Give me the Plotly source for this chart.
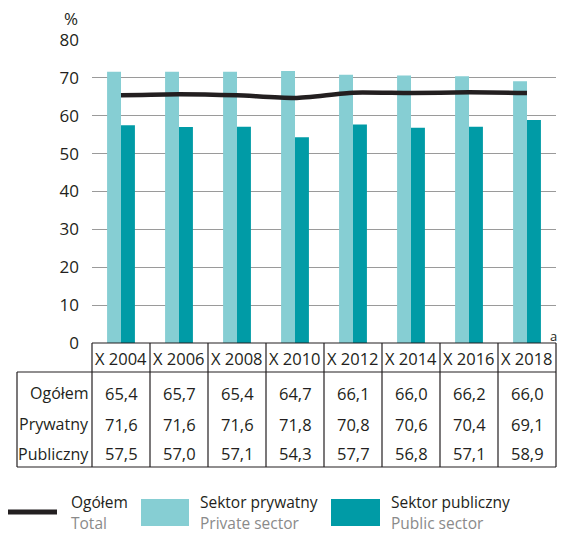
import plotly.graph_objects as go

categories = ["X 2004", "X 2006", "X 2008", "X 2010", "X 2012", "X 2014", "X 2016", "X 2018"]
total = [65.4, 65.7, 65.4, 64.7, 66.1, 66.0, 66.2, 66.0]
private = [71.6, 71.6, 71.6, 71.8, 70.8, 70.6, 70.4, 69.1]
public = [57.5, 57.0, 57.1, 54.3, 57.7, 56.8, 57.1, 58.9]
row_labels = ["Ogółem", "Prywatny", "Publiczny"]
y_ticks = [0, 10, 20, 30, 40, 50, 60, 70, 80]
footnote_mark = "a"

OFF = 8  # page body margin
W, H = 568 - OFF, 533 - OFF
# plot area in screen pixels
L, R, T, B = 92, 556, 40, 343
FONT = "Open Sans"
C_PRIV = "#86CED3"
C_PUB = "#009BA6"
C_LINE = "#231F20"
TXT = "#231F20"


def px(x):
    return (x - L) / (R - L)


def py(y):
    return (B - y) / (B - T)


n = len(categories)
fig = go.Figure()
fig.add_trace(go.Bar(x=list(range(n)), y=private, marker_color=C_PRIV, marker_line_width=0,
                     name="Sektor prywatny", showlegend=False))
fig.add_trace(go.Bar(x=list(range(n)), y=public, marker_color=C_PUB, marker_line_width=0,
                     name="Sektor publiczny", showlegend=False))
fig.add_trace(go.Scatter(x=list(range(n)), y=total, mode="lines",
                         line=dict(color=C_LINE, width=4.5, shape="spline", smoothing=0.6),
                         name="Ogółem", showlegend=False))

shapes = []
ann = []
line_style = dict(color="#231F20", width=1.2)

y_head_top, y_head_bot, y_bot = 343, 372, 467
x_left = 17
shapes.append(dict(type="line", xref="paper", yref="paper", x0=px(L), x1=px(R),
                   y0=py(y_head_top), y1=py(y_head_top), line=line_style))
shapes.append(dict(type="line", xref="paper", yref="paper", x0=px(x_left), x1=px(R),
                   y0=py(y_head_bot), y1=py(y_head_bot), line=line_style))
shapes.append(dict(type="line", xref="paper", yref="paper", x0=px(x_left), x1=px(R),
                   y0=py(y_bot), y1=py(y_bot), line=line_style))
shapes.append(dict(type="line", xref="paper", yref="paper", x0=px(x_left), x1=px(x_left),
                   y0=py(y_head_bot), y1=py(y_bot), line=line_style))
for k in range(n + 1):
    xx = L + k * (R - L) / n
    shapes.append(dict(type="line", xref="paper", yref="paper", x0=px(xx), x1=px(xx),
                       y0=py(y_head_top), y1=py(y_bot), line=line_style))

for i, c in enumerate(categories):
    ann.append(dict(x=i, y=py(358), xref="x", yref="paper", text=c, showarrow=False,
                    font=dict(family=FONT, size=16.5, color=TXT), xanchor="center", yanchor="middle"))

row_y = [393, 424, 454]
rows = [total, private, public]
for lab, yy, vals in zip(row_labels, row_y, rows):
    ann.append(dict(x=px(91), y=py(yy), xref="paper", yref="paper", text=lab, showarrow=False,
                    font=dict(family=FONT, size=16, color=TXT), xanchor="right", yanchor="middle"))
    for i, v in enumerate(vals):
        ann.append(dict(x=i, y=py(yy), xref="x", yref="paper",
                        text=f"{v:.1f}".replace(".", ","), showarrow=False,
                        font=dict(family=FONT, size=16.5, color=TXT), xanchor="center", yanchor="middle"))

ann.append(dict(x=px(71), y=py(19), xref="paper", yref="paper", text="%", showarrow=False,
                font=dict(family=FONT, size=17, color=TXT), xanchor="center", yanchor="middle"))
# footnote marker next to the table's top-right corner
ann.append(dict(x=px(553), y=py(336), xref="paper", yref="paper", text=footnote_mark,
                showarrow=False, font=dict(family=FONT, size=13, color=TXT),
                xanchor="center", yanchor="middle"))

# legend
shapes.append(dict(type="line", xref="paper", yref="paper", x0=px(7), x1=px(57),
                   y0=py(512), y1=py(512), line=dict(color=C_LINE, width=5)))
shapes.append(dict(type="rect", xref="paper", yref="paper", x0=px(141), x1=px(189),
                   y0=py(499), y1=py(526), fillcolor=C_PRIV, line=dict(width=0)))
shapes.append(dict(type="rect", xref="paper", yref="paper", x0=px(331), x1=px(380),
                   y0=py(499), y1=py(526), fillcolor=C_PUB, line=dict(width=0)))
legend_items = [(69, "Ogółem", "Total"), (198, "Sektor prywatny", "Private sector"),
                (389, "Sektor publiczny", "Public sector")]
for xx, pl, en in legend_items:
    ann.append(dict(x=px(xx), y=py(502), xref="paper", yref="paper", text=pl, showarrow=False,
                    font=dict(family=FONT, size=15.5, color=TXT), xanchor="left", yanchor="middle"))
    ann.append(dict(x=px(xx), y=py(523), xref="paper", yref="paper", text=en, showarrow=False,
                    font=dict(family=FONT, size=15.5, color="#8A8A8A"), xanchor="left", yanchor="middle"))

fig.update_layout(
    width=W, height=H, autosize=False,
    margin=dict(l=L - OFF, r=(W + OFF) - R, t=T - OFF, b=(H + OFF) - B, pad=0),
    paper_bgcolor="white", plot_bgcolor="white",
    barmode="group", bargap=0.52, bargroupgap=0,
    shapes=shapes, annotations=ann,
    showlegend=False,
    font=dict(family=FONT, color=TXT),
)
fig.update_xaxes(range=[-0.5, n - 0.5], showticklabels=False, showgrid=False, zeroline=False,
                 showline=False, ticks="")
fig.update_yaxes(range=[0, 80], tickvals=y_ticks, showgrid=True, gridcolor="#9A9A9A", gridwidth=1,
                 zeroline=False, showline=False, ticks="", ticklabelstandoff=12,
                 tickfont=dict(family=FONT, size=17, color=TXT), layer="below traces")

fig.write_html("out.html")
